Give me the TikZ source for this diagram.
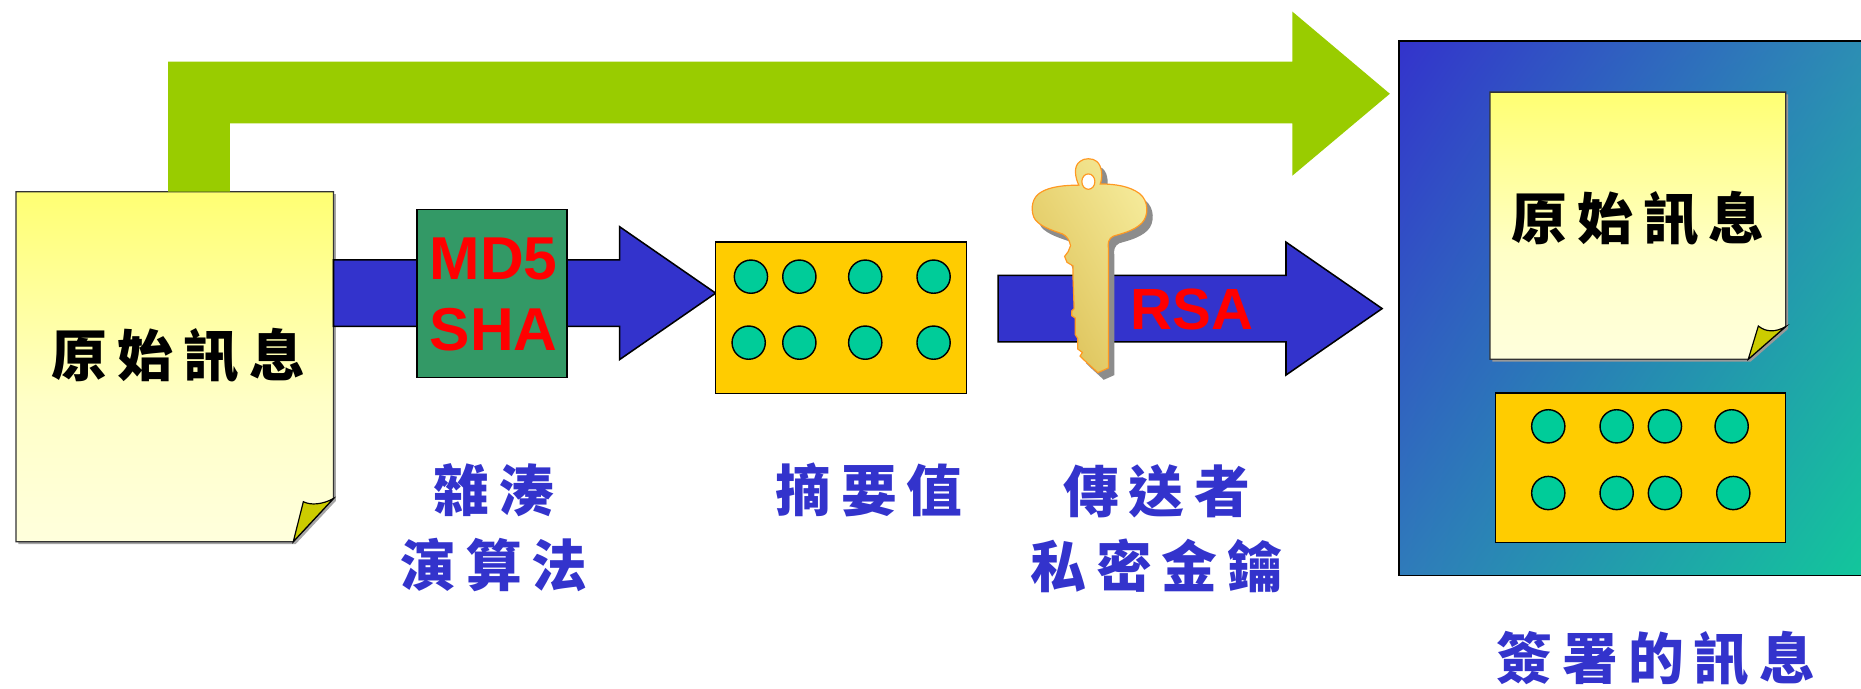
\documentclass[tikz,border=0pt]{standalone}
\usepackage{fontspec}
\usetikzlibrary{calc,shadings}
\newfontfamily\cjk{Noto Sans CJK TC}[LetterSpace=18]
\newfontfamily\latinbold{Liberation Sans}
\newcommand\lsfix{\kern-.18em}

\definecolor{arrowgreen}{HTML}{99CC00}
\definecolor{arrowblue}{HTML}{3333CC}
\definecolor{hashgreen}{HTML}{339966}
\definecolor{digestgold}{HTML}{FFCC00}
\definecolor{dotgreen}{HTML}{00CC99}
\definecolor{foldolive}{HTML}{CCCC00}
\definecolor{capblue}{HTML}{3333CC}
\definecolor{sigUL}{HTML}{3333CC}
\definecolor{sigUR}{HTML}{2C95B2}
\definecolor{sigLL}{HTML}{2F7BBA}
\definecolor{sigLR}{HTML}{10CC99}
\definecolor{keylight}{HTML}{F8F0A4}
\definecolor{keymid}{HTML}{EAD676}
\definecolor{keydark}{HTML}{D6B84C}
\definecolor{keyedge}{HTML}{FF9922}

% paper: bright yellow at the top fading to near white at the bottom
\pgfdeclareverticalshading{paper}{100bp}{%
  color(0bp)=(white!97!yellow); color(45bp)=(white!78!yellow);
  color(75bp)=(white!45!yellow); color(100bp)=(yellow)}

% outline of the gold key, top ring to bottom bit
\newcommand\keyoutline{%
  (909,156) .. controls (906,150) and (904,140) .. (910,136)
  .. controls (913,133) and (921,133) .. (924,136)
  .. controls (929,140) and (929,150) .. (927,155)
  .. controls (940,155) and (952,157) .. (960,163)
  .. controls (968,169) and (968,182) .. (962,188)
  .. controls (955,195) and (944,197) .. (938,199)
  .. controls (934,201) and (933,205) .. (934,210)
  -- (934,310) -- (925,314)
  -- (913,303) -- (910,300) -- (912,297) -- (908,294) -- (908,285)
  -- (906,282) -- (906,268) -- (903,266) -- (903,262) -- (905,260)
  -- (904,232) -- (904,224) -- (899,221) -- (897,216) -- (900,212)
  -- (902,207)
  .. controls (901,202) and (899,199) .. (895,197)
  .. controls (886,194) and (874,190) .. (871,183)
  .. controls (868,175) and (870,166) .. (877,162)
  .. controls (885,157) and (898,156) .. (909,156) -- cycle}

\begin{document}
\begin{tikzpicture}[x=1pt,y=-1pt,
  msgfont/.style={font=\cjk\bfseries\fontsize{47}{63}\selectfont},
  caption/.style={msgfont,text=capblue,align=center,inner sep=0pt},
  doctext/.style={msgfont,text=black,inner sep=0pt},
  redtext/.style={font=\latinbold\bfseries\fontsize{51}{60}\selectfont,
    text=red,align=center,inner sep=0pt},
  frame/.style={draw=black,line width=1.3pt},
  paperedge/.style={draw=black!80,line width=1.1pt},
  digestbox/.style={frame,fill=digestgold,inner sep=0pt},
  dot/.style={circle,draw=black,line width=1.2pt,fill=dotgreen,
    minimum size=28pt,inner sep=0pt},
  bluearrow/.style={fill=arrowblue,draw=black,line width=1.3pt},
  fatarrow/.style={to path={
    let \p1=(\tikztostart), \p2=(\tikztotarget) in
    (\x1,{\y2-28pt}) -- ({\x2-81pt},{\y2-28pt}) -- ({\x2-81pt},{\y2-56pt})
    -- (\x2,\y2) -- ({\x2-81pt},{\y2+56pt}) -- ({\x2-81pt},{\y2+28pt})
    -- (\x1,{\y2+28pt}) -- cycle}}]
\useasboundingbox (0,0) rectangle (1568,580);

% ---- original message (left page) ----
\coordinate (srcTL) at (13.5,161.5);
\coordinate (srcBR) at (281,456.4);
\fill[black!35] (15.5,163.5) -- (283,163.5) -- (283,422) -- (249.1,458.4) -- (15.5,458.4) -- cycle;
\shade[shading=paper] (srcTL) -- (281,161.5) -- (281,420) -- (247.1,456.4) -- (13.5,456.4) -- cycle;
\draw[paperedge] (srcTL) -- (281,161.5) -- (281,420) -- (247.1,456.4) -- (13.5,456.4) -- cycle;
\filldraw[fill=foldolive,draw=black,line width=1pt]
  (281,420) .. controls (272,425) and (262,426) .. (255.6,422.7) -- (247.1,456.4) -- cycle;
\node[doctext] (srcmsg) at (146,300) {原始訊息\lsfix};
\coordinate (src) at (281,247);

% ---- green bypass arrow, from the page top over to the signed message ----
\coordinate (gtip) at (1171,79);
\fill[arrowgreen] (141.7,161.5) -- (141.7,52) -- (1088.9,52) -- (1088.9,9.8)
  -- (gtip) -- (1088.9,148) -- (1088.9,103.9) -- (193.6,103.9) -- (193.6,161.5) -- cycle;

% ---- hashing step ----
\coordinate (tip1) at (603,247);
\draw[bluearrow] (src) to[fatarrow] (tip1);
\node[frame,fill=hashgreen,minimum width=126.6pt,minimum height=141.8pt,inner sep=0pt]
  (hash) at (414.5,247.3) {};
\node[redtext] (hashname) at (416,248) {MD5\\SHA};

% ---- digest ----
\node[digestbox,minimum width=211.3pt,minimum height=127.4pt] (digest) at (708.65,267.7) {};
\foreach \i/\x/\y in {1/632.7/233.1,2/673.5/233.1,3/729/233.1,4/786.6/233.1,
                      5/630.8/288.7,6/673.5/288.7,7/729/288.7,8/786.6/288.7}
  \node[dot] (dg\i) at (\x,\y) {};

% ---- signing step ----
\coordinate (sigstart) at (841,260);
\coordinate (tip2) at (1164.5,260);
\draw[bluearrow] (sigstart) to[fatarrow] (tip2);
\node[font=\latinbold\bfseries\fontsize{49}{58}\selectfont,text=red,inner sep=0pt]
  (rsa) at (1004.6,260.5) {RSA};

% the private key
\fill[black!45,shift={(5,6)}] \keyoutline;
\shade[upper right=keylight,lower left=keydark,upper left=keymid,lower right=keymid]
  \keyoutline;
\draw[keyedge,line width=1pt] \keyoutline;
\filldraw[fill=white,draw=keyedge,line width=1pt] (917,153) ellipse [x radius=5.5,y radius=6.5];

% ---- signed message ----
\shade[upper left=sigUL,upper right=sigUR,lower left=sigLL,lower right=sigLR]
  (1178.6,34.4) rectangle (1600,485);
\draw[frame] (1600,34.4) -- (1178.6,34.4) -- (1178.6,485) -- (1600,485);
\coordinate (signed) at (1178.6,260);

\fill[black!40] (1257.4,79.6) -- (1506.5,79.6) -- (1506.5,277.2) -- (1475,304.7) -- (1257.4,304.7) -- cycle;
\shade[shading=paper] (1255.4,77.6) -- (1504.5,77.6) -- (1504.5,275.2) -- (1473,302.7) -- (1255.4,302.7) -- cycle;
\draw[paperedge] (1255.4,77.6) -- (1504.5,77.6) -- (1504.5,275.2) -- (1473,302.7) -- (1255.4,302.7) -- cycle;
\filldraw[fill=foldolive,draw=black,line width=1pt]
  (1504.5,275.2) .. controls (1496,280) and (1488,280) .. (1481.5,274.7) -- (1473,302.7) -- cycle;
\node[doctext] (sigmsg) at (1376,184) {原始訊息\lsfix};

\node[digestbox,minimum width=244.5pt,minimum height=126pt] (sigdigest) at (1382.25,394) {};
\foreach \i/\x/\y in {1/1304.5/359.2,2/1362.1/359.2,3/1402.8/359.2,4/1459/359.2,
                      5/1304.5/415.4,6/1362.1/415.4,7/1402.8/415.4,8/1460.4/415.4}
  \node[dot] (sd\i) at (\x,\y) {};

% ---- captions ----
\node[caption] (hashlbl) at (412,444.5) {雜湊\lsfix\\演算法\lsfix};
\node[caption] (digestlbl) at (728,413) {摘要值\lsfix};
\node[caption] (keylbl) at (970.5,445.5) {傳送者\lsfix\\私密金鑰\lsfix};
\node[caption] (signedlbl) at (1391,555) {簽署的訊息\lsfix};
\end{tikzpicture}
\end{document}
